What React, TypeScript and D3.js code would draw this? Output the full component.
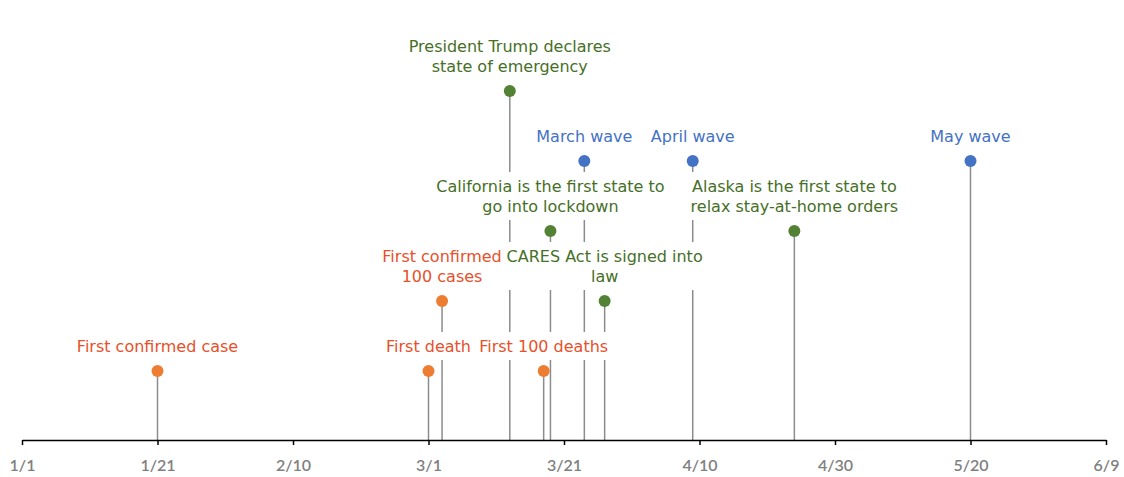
import React, { useEffect, useRef } from "react";
import * as d3 from "d3";

// Timeline events (2020)
const eventDates = [
  "2020-01-21", "2020-03-01", "2020-03-03", "2020-03-13", "2020-03-18",
  "2020-03-19", "2020-03-24", "2020-03-27", "2020-04-09", "2020-04-24", "2020-05-20",
];
const eventLevels = [1, 1, 2, 5, 1, 3, 4, 2, 4, 3, 4];
const eventKinds = [
  "case", "case", "case", "policy", "case",
  "policy", "wave", "policy", "wave", "policy", "wave",
];
const eventLabels = [
  ["First confirmed case"],
  ["First death"],
  ["First confirmed", "100 cases"],
  ["President Trump declares", "state of emergency"],
  ["First 100 deaths"],
  ["California is the first state to", "go into lockdown"],
  ["March wave"],
  ["CARES Act is signed into", "law"],
  ["April wave"],
  ["Alaska is the first state to", "relax stay-at-home orders"],
  ["May wave"],
];

const axisStart = "2020-01-01";
const axisEnd = "2020-06-09";
const tickStepDays = 20;
const tickCount = 9;

const markerColor: Record<string, string> = {
  case: "#ED7D31",
  policy: "#548235",
  wave: "#4472C4",
};
const textColor: Record<string, string> = {
  case: "#E8502A",
  policy: "#466F27",
  wave: "#4472C4",
};

const W = 1124;
const H = 477;

export default function App() {
  const ref = useRef<SVGSVGElement | null>(null);

  useEffect(() => {
    const svg = d3.select(ref.current);
    svg.selectAll("*").remove();

    const parse = d3.utcParse("%Y-%m-%d");
    const x = d3
      .scaleUtc()
      .domain([parse(axisStart)!, parse(axisEnd)!])
      .range([22, 1106]);
    const y = d3.scaleLinear().domain([0, 5]).range([441, 91]);
    const axisY = y(0) - 1;

    const events = eventDates.map((d, i) => ({
      date: parse(d)!,
      level: eventLevels[i],
      kind: eventKinds[i],
      lines: eventLabels[i],
    }));

    // stems from each marker down to the axis
    svg
      .append("g")
      .selectAll("line")
      .data(events)
      .join("line")
      .attr("x1", (d) => x(d.date))
      .attr("x2", (d) => x(d.date))
      .attr("y1", (d) => y(d.level))
      .attr("y2", axisY)
      .attr("stroke", "#8C8C8C")
      .attr("stroke-width", 1.5);

    // date axis, one tick every 20 days
    const tickVals = d3
      .range(0, tickCount)
      .map((k) => d3.utcDay.offset(parse(axisStart)!, k * tickStepDays));
    const axisG = svg.append("g").attr("transform", `translate(0,${axisY})`);
    axisG.call(
      d3
        .axisBottom(x)
        .tickValues(tickVals)
        .tickSize(5)
        .tickSizeOuter(0)
        .tickPadding(15)
        .tickFormat((d) => d3.utcFormat("%-m/%-d")(d as Date))
    );
    axisG.select(".domain").attr("stroke", "#000").attr("stroke-width", 1.5);
    axisG.selectAll(".tick line").attr("stroke", "#000").attr("stroke-width", 1.5);
    axisG
      .selectAll(".tick text")
      .attr("fill", "#7F7F7F")
      .attr("font-family", "Lato, 'Liberation Sans', sans-serif")
      .attr("font-size", 16)
      .attr("font-weight", 600);

    // labels with white backing boxes
    const lineGap = 20;
    const labelG = svg.append("g");
    events.forEach((e) => {
      const cx = x(e.date);
      const lastBase = y(e.level) - 19;
      const firstBase = lastBase - (e.lines.length - 1) * lineGap;
      const g = labelG.append("g");
      const rect = g.append("rect").attr("fill", "#fff");
      const t = g
        .append("text")
        .attr("text-anchor", "middle")
        .attr("font-family", "'DejaVu Sans', sans-serif")
        .attr("font-size", 16)
        .attr("fill", textColor[e.kind]);
      e.lines.forEach((ln, i) => {
        t.append("tspan").attr("x", cx).attr("y", firstBase + i * lineGap).text(ln);
      });
      const bb = (t.node() as SVGTextElement).getBBox();
      rect
        .attr("x", bb.x - 4)
        .attr("width", bb.width + 8)
        .attr("y", firstBase - 20)
        .attr("height", lastBase + 8 - (firstBase - 20));
    });

    // markers
    svg
      .append("g")
      .selectAll("circle")
      .data(events)
      .join("circle")
      .attr("cx", (d) => x(d.date))
      .attr("cy", (d) => y(d.level))
      .attr("r", 6)
      .attr("fill", (d) => markerColor[d.kind]);
  }, []);

  return (
    <svg
      ref={ref}
      width={W}
      height={H}
      style={{ position: "absolute", left: 0, top: 0, background: "#fff" }}
    />
  );
}
